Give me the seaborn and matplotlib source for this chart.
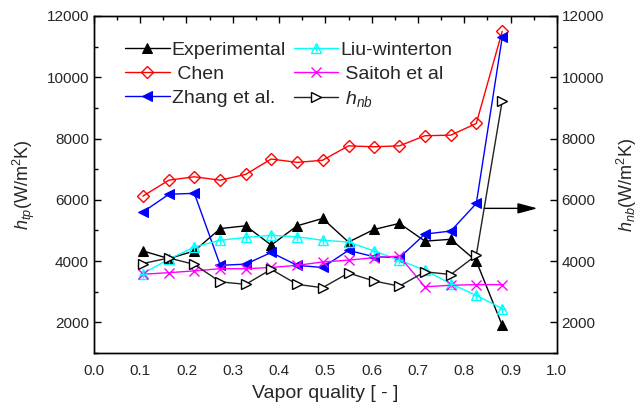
import numpy as np
import pandas as pd
import matplotlib
matplotlib.use("Agg")
import matplotlib.pyplot as plt
import seaborn as sns
from matplotlib.ticker import MultipleLocator
from matplotlib.legend_handler import HandlerTuple

# ---- data ----
quality = [0.106, 0.162, 0.217, 0.273, 0.328, 0.383, 0.439, 0.494, 0.550,
           0.605, 0.660, 0.715, 0.771, 0.826, 0.882]
experimental = [4330, 4080, 4330, 5060, 5150, 4520, 5150, 5390, 4620, 5030,
                5230, 4650, 4710, 4000, 1900]
chen = [6120, 6640, 6750, 6640, 6830, 7330, 7220, 7290, 7760, 7730, 7760,
        8090, 8110, 8490, 11500]
zhang = [5600, 6180, 6210, 3860, 3900, 4280, 3860, 3790, 4350, 4140, 4110,
         4880, 4980, 5880, 11300]
liu_winterton = [3590, 4060, 4460, 4680, 4770, 4840, 4790, 4680, 4620, 4330,
                 4030, 3700, 3260, 2880, 2450]
saitoh = [3570, 3620, 3680, 3750, 3750, 3790, 3860, 3970, 4030, 4110, 4160,
          3160, 3210, 3230, 3230]
h_nb = [3920, 4100, 3890, 3320, 3240, 3730, 3240, 3130, 3610, 3350, 3180,
        3650, 3560, 4190, 9230]
xticks = [0.0, 0.1, 0.2, 0.3, 0.4, 0.5, 0.6, 0.7, 0.8, 0.9, 1.0]
yticks = [2000, 4000, 6000, 8000, 10000, 12000]

sns.set_style("white")
plt.rcParams["font.family"] = ["Liberation Sans", "DejaVu Sans"]
plt.rcParams["mathtext.fontset"] = "custom"
plt.rcParams["mathtext.rm"] = "Liberation Sans"
plt.rcParams["mathtext.it"] = "Liberation Sans:italic"

CYAN = "#00ffff"

fig = plt.figure(figsize=(6.43, 4.09), dpi=100)
ax = fig.add_axes([0.146, 0.137, 0.720, 0.824])
ax2 = ax.twinx()

lw = 1.0
common = dict(ax=ax, linewidth=lw, legend=False, errorbar=None)

sns.lineplot(x=quality, y=experimental, color="black", marker="^",
             markersize=7, markerfacecolor="black", markeredgecolor="black", **common)
sns.lineplot(x=quality, y=chen, color="#ff0000", marker="D",
             markersize=6.2, markerfacecolor="none", markeredgecolor="#ff0000",
             markeredgewidth=1.0, **common)
sns.lineplot(x=quality, y=zhang, color="#0000ff", marker="<",
             markersize=7.5, markerfacecolor="#0000ff", markeredgecolor="#0000ff", **common)
sns.lineplot(x=quality, y=liu_winterton, color=CYAN, marker="^",
             markersize=7, markerfacecolor="none", markeredgecolor=CYAN,
             markeredgewidth=1.0, **common)
sns.scatterplot(x=quality, y=liu_winterton, ax=ax, marker="+", s=30,
                color=CYAN, linewidth=1.0, legend=False, zorder=3)
sns.lineplot(x=quality, y=saitoh, color="#ff00ff", marker="x",
             markersize=7, markeredgecolor="#ff00ff", markeredgewidth=1.0, **common)
sns.lineplot(x=quality, y=h_nb, ax=ax2, color="#222222", linewidth=lw,
             marker=">", markersize=7.5, markerfacecolor="white",
             markeredgecolor="black", markeredgewidth=1.0, legend=False, errorbar=None)

for a in (ax, ax2):
    a.set_ylim(1000, 12000)
    a.set_yticks(yticks)
    a.yaxis.set_minor_locator(MultipleLocator(1000))
ax.set_xlim(0.0, 1.0)
ax.set_xticks(xticks)
ax.set_xticklabels([f"{t:.1f}" for t in xticks])
ax.xaxis.set_minor_locator(MultipleLocator(0.05))

ax.tick_params(axis="both", which="both", direction="in", top=True,
               labelsize=11, width=1.0, color="black")
ax.tick_params(which="major", length=5)
ax.tick_params(which="minor", length=3)
ax.tick_params(axis="x", pad=8)
ax.tick_params(axis="y", right=False)
ax2.tick_params(axis="y", which="both", direction="in", labelsize=11,
                width=1.0, color="black")
ax2.tick_params(which="major", length=5)
ax2.tick_params(which="minor", length=3)

for a in (ax, ax2):
    for s in a.spines.values():
        s.set_color("black")
        s.set_linewidth(1.0)

ax.set_xlabel("Vapor quality [ - ]", fontsize=14, labelpad=5)
ax.set_ylabel(r"$h_{tp}$(W/m$^2$K)", fontsize=13, labelpad=7)
ax2.set_ylabel(r"$h_{nb}$(W/m$^2$K)", fontsize=13, labelpad=8, rotation=90)

ax.annotate("", xy=(0.958, 5720), xytext=(0.843, 5720),
            arrowprops=dict(arrowstyle="-|>,head_length=0.6,head_width=0.16",
                            color="black", lw=1.0, mutation_scale=20,
                            shrinkA=0, shrinkB=0))

lines = ax.lines
liu_plus = plt.Line2D([], [], linestyle="none", marker="+", markersize=5,
                      color=CYAN, markeredgewidth=1.0)
handles = [lines[0], lines[1], lines[2], (lines[3], liu_plus), lines[4], ax2.lines[0]]
labels = ["Experimental", " Chen", "Zhang et al.", "Liu-winterton",
          " Saitoh et al", r" $h_{nb}$"]
ax.legend(handles, labels, ncol=2, loc="upper left",
          bbox_to_anchor=(0.067, 0.925), frameon=False, fontsize=14,
          handlelength=2.3, handletextpad=0.1, columnspacing=0.4,
          labelspacing=0.33, borderpad=0, borderaxespad=0,
          handler_map={tuple: HandlerTuple(ndivide=1)})

fig.savefig("out.png", dpi=100)
